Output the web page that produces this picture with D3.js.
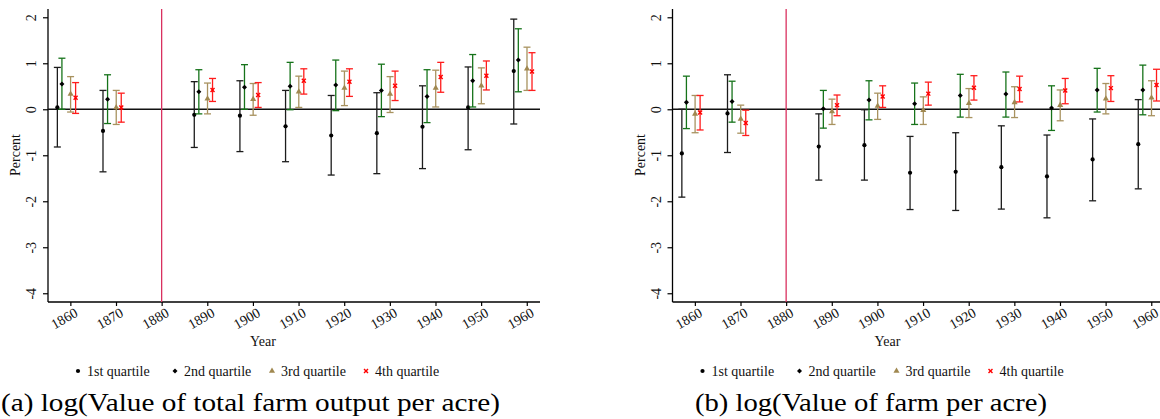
<!DOCTYPE html>
<meta charset="utf-8">
<head>
    <title>Quartile estimates by decade</title>
</head>
<style>
body { margin: 0; background: #fff; }
text { font-family: "Liberation Serif", "DejaVu Serif", serif; fill: #111; }
</style>

<script src="https://d3js.org/d3.v7.min.js"></script>

<div id="chart"></div>

<script>
// decades with estimates (1880 is the omitted reference year)
var years = [1860, 1870, 1890, 1900, 1910, 1920, 1930, 1940, 1950, 1960];
var xTicks = [1860, 1870, 1880, 1890, 1900, 1910, 1920, 1930, 1940, 1950, 1960];
var yTicks = [-4, -3, -2, -1, 0, 1, 2];
var quartiles = ["1st quartile", "2nd quartile", "3rd quartile", "4th quartile"];
var captions = ["(a) log(Value of total farm output per acre)", "(b) log(Value of farm per acre)"];

// panel (a): [estimate, lower, upper] for each year
var outputQ1 = [[0.04,-0.82,0.91],[-0.47,-1.36,0.41],[-0.12,-0.83,0.60],[-0.14,-0.92,0.62],[-0.37,-1.14,0.41],
                [-0.57,-1.43,0.30],[-0.52,-1.40,0.36],[-0.38,-1.29,0.51],[0.04,-0.88,0.92],[0.83,-0.32,1.96]];
var outputQ2 = [[0.55,0.00,1.11],[0.22,-0.31,0.75],[0.38,-0.10,0.86],[0.48,0.00,0.97],[0.50,-0.01,1.02],
                [0.53,-0.03,1.07],[0.41,-0.16,0.98],[0.28,-0.29,0.86],[0.62,0.05,1.19],[1.07,0.38,1.75]];
var outputQ3 = [[0.33,-0.06,0.71],[0.04,-0.33,0.41],[0.23,-0.10,0.57],[0.22,-0.13,0.56],[0.38,0.04,0.72],
                [0.46,0.08,0.83],[0.33,-0.07,0.71],[0.46,0.05,0.85],[0.51,0.12,0.90],[0.88,0.41,1.35]];
var outputQ4 = [[0.25,-0.09,0.58],[0.04,-0.28,0.35],[0.42,0.17,0.67],[0.31,0.04,0.58],[0.62,0.33,0.88],
                [0.60,0.28,0.88],[0.51,0.19,0.83],[0.70,0.37,1.02],[0.73,0.42,1.05],[0.82,0.41,1.23]];

// panel (b)
var valueQ1 = [[-0.96,-1.91,0.00],[-0.09,-0.94,0.75],[-0.81,-1.54,-0.10],[-0.78,-1.54,-0.01],[-1.38,-2.18,-0.59],
               [-1.36,-2.20,-0.51],[-1.26,-2.17,-0.36],[-1.46,-2.36,-0.56],[-1.09,-1.99,-0.21],[-0.76,-1.73,0.21]];
var valueQ2 = [[0.15,-0.42,0.72],[0.17,-0.28,0.61],[0.01,-0.41,0.41],[0.20,-0.23,0.62],[0.12,-0.33,0.57],
               [0.30,-0.17,0.76],[0.33,-0.17,0.81],[0.03,-0.46,0.51],[0.42,-0.06,0.89],[0.42,-0.12,0.96]];
var valueQ3 = [[-0.10,-0.51,0.30],[-0.21,-0.52,0.09],[-0.05,-0.33,0.22],[0.07,-0.22,0.35],[-0.02,-0.33,0.27],
               [0.13,-0.18,0.45],[0.15,-0.18,0.49],[0.09,-0.25,0.42],[0.23,-0.10,0.56],[0.25,-0.14,0.62]];
var valueQ4 = [[-0.07,-0.45,0.30],[-0.30,-0.57,-0.02],[0.09,-0.14,0.31],[0.28,0.04,0.51],[0.34,0.09,0.59],
               [0.47,0.20,0.73],[0.44,0.16,0.72],[0.41,0.12,0.67],[0.46,0.17,0.73],[0.53,0.18,0.87]];

var barColors = ["#1c1c1c", "#16731a", "#a8925f", "#ff1c1c"];
var markColors = ["#000", "#000", "#a08850", "#ff0000"];
var shapes = [d3.symbolCircle, d3.symbolDiamond2, d3.symbolTriangle, d3.symbolX];
var shapeSize = [14, 16, 16, 12];
var offsets = [-2.85, -1.85, 0.05, 1.15];   // years, dodge each quartile
var serif = '"Liberation Serif", "DejaVu Serif", serif';

var svg = d3.select("#chart")
  .append("svg")
    .attr("width", 1160)
    .attr("height", 419)
    .attr("font-family", serif);

function drawPanel(left, series, caption, capX, capLen) {
  var right = left + 492, top = 9, bottom = 302;

  var x = d3.scaleLinear().domain([1855.1, 1962.9]).range([left, right]);
  var y = d3.scaleLinear().domain([-4.19, 2.18]).range([bottom, top]);

  var g = svg.append("g");

  // y axis
  var yAxis = g.append("g")
      .attr("transform", "translate(" + left + ",0)")
      .call(d3.axisLeft(y).tickValues(yTicks).tickSize(5).tickSizeOuter(0).tickFormat(function(d) { return String(d); }));
  yAxis.attr("font-family", null);
  yAxis.select(".domain").attr("d", "M0," + top + "V" + bottom).attr("stroke", "#000").attr("stroke-width", 1.3);
  yAxis.selectAll(".tick line").attr("stroke-width", 1.2);
  yAxis.selectAll(".tick text")
      .attr("x", null).attr("dy", null)
      .attr("text-anchor", "middle")
      .attr("transform", "translate(-12,0) rotate(-90)")
      .style("font-family", serif)
      .style("font-size", "14px");

  // x axis
  var xAxis = g.append("g")
      .attr("transform", "translate(0," + bottom + ")")
      .call(d3.axisBottom(x).tickValues(xTicks).tickSize(4).tickSizeOuter(0).tickFormat(function(d) { return String(d); }));
  xAxis.attr("font-family", null);
  xAxis.select(".domain").attr("d", "M" + left + ",0H" + right).attr("stroke", "#000").attr("stroke-width", 1.3);
  xAxis.selectAll(".tick line").attr("stroke-width", 1.2);
  xAxis.selectAll(".tick text")
      .attr("y", null).attr("dy", "0.7em")
      .attr("text-anchor", "end")
      .attr("transform", "translate(3,5) rotate(-30)")
      .style("font-family", serif)
      .style("font-size", "14px");

  // reference lines
  g.append("line")
      .attr("x1", left).attr("x2", right)
      .attr("y1", y(0)).attr("y2", y(0))
      .attr("stroke", "#111").attr("stroke-width", 1.3);
  g.append("line")
      .attr("x1", x(1880)).attr("x2", x(1880))
      .attr("y1", top).attr("y2", bottom)
      .attr("stroke", "#d9305f").attr("stroke-width", 1.3);

  // error bars + markers
  series.forEach(function(s, q) {
    var rows = s.map(function(d, i) { return {year: years[i], est: d[0], lo: d[1], hi: d[2]}; });
    var cg = g.append("g").attr("stroke", barColors[q]).attr("stroke-width", 1.3);
    cg.selectAll("line.ci").data(rows).enter().append("line")
        .attr("x1", function(d) { return x(d.year + offsets[q]); })
        .attr("x2", function(d) { return x(d.year + offsets[q]); })
        .attr("y1", function(d) { return y(d.lo); })
        .attr("y2", function(d) { return y(d.hi); });
    ["lo", "hi"].forEach(function(k) {
      cg.selectAll("line.cap" + k).data(rows).enter().append("line")
          .attr("x1", function(d) { return x(d.year + offsets[q]) - 3.5; })
          .attr("x2", function(d) { return x(d.year + offsets[q]) + 3.5; })
          .attr("y1", function(d) { return y(d[k]); })
          .attr("y2", function(d) { return y(d[k]); });
    });
    var sym = d3.symbol().type(shapes[q]).size(shapeSize[q]);
    g.selectAll("path.m" + q).data(rows).enter().append("path")
        .attr("d", sym)
        .attr("transform", function(d) { return "translate(" + x(d.year + offsets[q]) + "," + y(d.est) + ")"; })
        .attr("fill", q == 3 ? "none" : markColors[q])
        .attr("stroke", q == 3 ? markColors[q] : "none")
        .attr("stroke-width", 1.4);
  });

  // axis titles
  g.append("text")
      .attr("transform", "translate(" + (left - 28) + ",155) rotate(-90)")
      .attr("text-anchor", "middle")
      .style("font-size", "14px")
      .text("Percent");
  g.append("text")
      .attr("x", left + 215).attr("y", 346)
      .attr("text-anchor", "middle")
      .style("font-size", "14px")
      .text("Year");

  // legend
  var legX = [30, 127, 224, 318];
  quartiles.forEach(function(name, q) {
    var lx = left + legX[q];
    g.append("path")
        .attr("d", d3.symbol().type(shapes[q]).size(shapeSize[q])())
        .attr("transform", "translate(" + lx + ",371)")
        .attr("fill", q == 3 ? "none" : markColors[q])
        .attr("stroke", q == 3 ? markColors[q] : "none")
        .attr("stroke-width", 1.4);
    g.append("text")
        .attr("x", lx + 9).attr("y", 376)
        .style("font-size", "14px")
        .text(name);
  });

  // caption
  svg.append("text")
      .attr("x", capX).attr("y", 411)
      .attr("textLength", capLen)
      .attr("lengthAdjust", "spacingAndGlyphs")
      .style("font-family", serif)
      .style("font-size", "26px")
      .style("fill", "#000")
      .text(caption);
}

drawPanel(48, [outputQ1, outputQ2, outputQ3, outputQ4], captions[0], 1, 499);
drawPanel(672.5, [valueQ1, valueQ2, valueQ3, valueQ4], captions[1], 695, 352);
</script>
